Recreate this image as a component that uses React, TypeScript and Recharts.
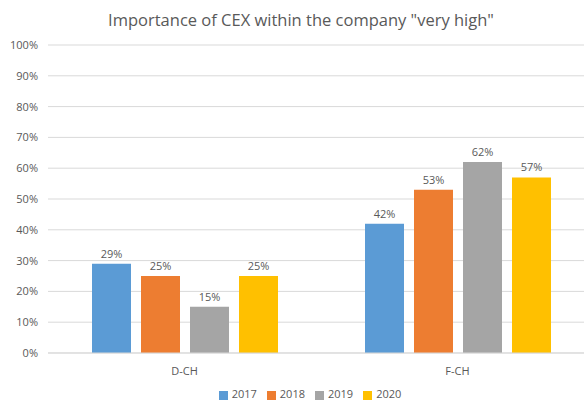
import React from 'react';
import { BarChart, Bar, XAxis, YAxis, CartesianGrid, Legend, LabelList } from 'recharts';

const categories = ['D-CH', 'F-CH'];
const years = ['2017', '2018', '2019', '2020'];
const values2017 = [29, 42];
const values2018 = [25, 53];
const values2019 = [15, 62];
const values2020 = [25, 57];
const yTicks = [0, 10, 20, 30, 40, 50, 60, 70, 80, 90, 100];

const colors = ['#5B9BD5', '#ED7D31', '#A5A5A5', '#FFC000'];
const textColor = '#595959';
const font = '"Open Sans", "Noto Sans", sans-serif';

const seriesValues = [values2017, values2018, values2019, values2020];
const data = categories.map((name, i) => {
  const row: Record<string, string | number> = { name };
  years.forEach((y, j) => {
    row[y] = seriesValues[j][i];
  });
  return row;
});

export default function App() {
  return (
    <div
      style={{
        position: 'absolute',
        left: 0,
        top: 0,
        width: 584,
        height: 403,
        overflow: 'hidden',
        background: '#fff',
        fontFamily: font,
      }}
    >
      <div
        style={{
          position: 'absolute',
          top: 8,
          left: 0,
          width: 602,
          textAlign: 'center',
          fontSize: 16.5,
          color: textColor,
        }}
      >
        Importance of CEX within the company "very high"
      </div>
      <BarChart
        width={594}
        height={403}
        data={data}
        margin={{ top: 45, right: 0, left: 0, bottom: 6 }}
        barSize={39}
        barGap={10}
      >
        <CartesianGrid vertical={false} stroke="#D9D9D9" />
        <XAxis
          dataKey="name"
          axisLine={{ stroke: '#D9D9D9' }}
          tickLine={false}
          tickMargin={8}
          height={24}
          tick={{ fill: textColor, fontSize: 11, fontFamily: font }}
        />
        <YAxis
          domain={[0, 100]}
          ticks={yTicks}
          width={48}
          axisLine={false}
          tickLine={false}
          tickSize={0}
          tickMargin={10}
          interval={0}
          tickFormatter={(v) => `${v}%`}
          tick={{ fill: textColor, fontSize: 11, fontFamily: font }}
        />
        <Legend
          verticalAlign="bottom"
          align="center"
          iconType="square"
          iconSize={9}
          height={20}
          wrapperStyle={{ left: 18, bottom: -3, fontSize: 11, fontFamily: font }}
          formatter={(value) => <span style={{ color: textColor }}>{value}</span>}
        />
        {years.map((y, i) => (
          <Bar key={y} dataKey={y} fill={colors[i]} isAnimationActive={false}>
            <LabelList
              dataKey={y}
              position="top"
              offset={6}
              formatter={(v) => `${v}%`}
              style={{ fill: textColor, fontSize: 11, fontFamily: font }}
            />
          </Bar>
        ))}
      </BarChart>
    </div>
  );
}
